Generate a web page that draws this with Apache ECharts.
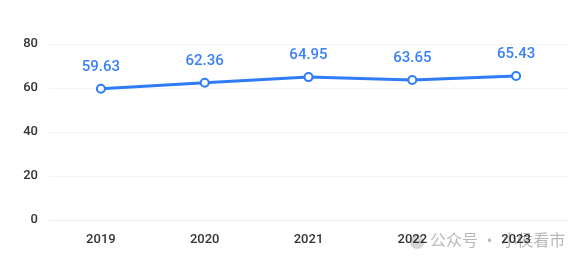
<!DOCTYPE html>
<html><head><meta charset="utf-8">
<script src="https://cdn.jsdelivr.net/npm/echarts@6/dist/echarts.min.js"></script>
<style>html,body{margin:0;padding:0;background:#fff}#c{width:582px;height:266px}</style>
</head><body><div id="c"></div>
<script>
const categories = ['2019','2020','2021','2022','2023'];
const values = [59.63, 62.36, 64.95, 63.65, 65.43];
const yTicks = [0, 20, 40, 60, 80];

const chart = echarts.init(document.getElementById('c'), null, {renderer:'canvas'});
chart.setOption({
  backgroundColor:'#fff',
  animation:false,
  grid:{left:49,right:14,top:44,bottom:46},
  graphic:[
    {type:'circle',left:410,top:235,shape:{r:7},style:{fill:'#d5d5d5'},z:0},
    {type:'text',left:430,top:232,style:{text:'公众号 · 小侯看市',fill:'#b8b8b8',font:'16px "Noto Sans CJK SC"'},z:0}
  ],
  xAxis:{type:'category',data:categories,boundaryGap:true,
    axisLine:{show:true,lineStyle:{color:'#eeeef2'}},
    axisTick:{show:false},
    axisLabel:{color:'#333',fontSize:13,fontWeight:500,margin:13,fontFamily:'Roboto'}},
  yAxis:{type:'value',min:yTicks[0],max:yTicks[yTicks.length-1],interval:20,
    axisLine:{show:false},axisTick:{show:false},
    splitLine:{lineStyle:{color:'#f2f2f7'}},
    axisLabel:{color:'#333',fontSize:13,fontWeight:500,margin:11,fontFamily:'Roboto'}},
  series:[{type:'line',data:values,symbol:'circle',symbolSize:8,
    lineStyle:{color:'#2f7cf6',width:3},
    itemStyle:{color:'#fff',borderColor:'#2f7cf6',borderWidth:2},
    label:{show:true,position:'top',distance:9,color:'#3a80f6',fontSize:15,fontWeight:500,fontFamily:'Roboto'},
    z:3}]
});
</script></body></html>
